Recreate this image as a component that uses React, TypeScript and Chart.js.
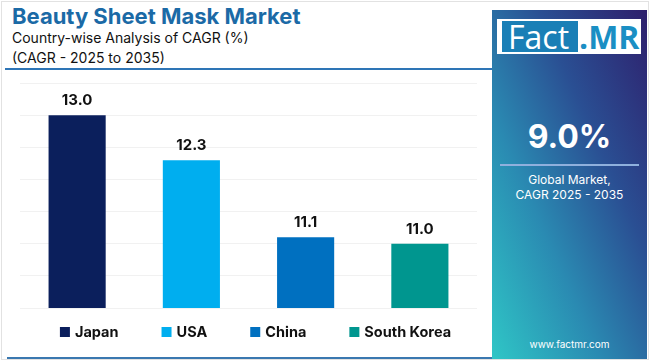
import React, { useEffect, useRef } from "react";
import { Chart, registerables } from "chart.js";

Chart.register(...registerables);

const categories = ["Japan", "USA", "China", "South Korea"];
const cagrValues = [13.0, 12.3, 11.1, 11.0];
const barColors = ["#0b1f5c", "#00aeef", "#0070c0", "#00968f"];
const yMin = 10;
const yMax = 13.5;
const yStep = 0.5;

const FONT = "Inter, 'Open Sans', sans-serif";

const barLabelPlugin = {
  id: "barLabels",
  afterDatasetsDraw(chart: any) {
    const ctx = chart.ctx;
    const meta = chart.getDatasetMeta(0);
    ctx.save();
    ctx.font = `bold 15px ${FONT}`;
    ctx.fillStyle = "#111111";
    ctx.textAlign = "center";
    ctx.textBaseline = "alphabetic";
    meta.data.forEach((bar: any, i: number) => {
      ctx.fillText(cagrValues[i].toFixed(1), bar.x, bar.y - 10);
    });
    ctx.restore();
  },
};

const customLegendPlugin = {
  id: "customLegend",
  afterDraw(chart: any) {
    const ctx = chart.ctx;
    const area = chart.chartArea;
    ctx.save();
    ctx.font = `bold 14.5px ${FONT}`;
    const box = 10;
    const gapText = 5;
    const gapItem = 43;
    const widths = categories.map((c) => box + gapText + ctx.measureText(c).width);
    const total = widths.reduce((a, b) => a + b, 0) + gapItem * (categories.length - 1);
    let x = (area.left + area.right) / 2 + 7 - total / 2;
    const y = area.bottom + 24;
    ctx.textBaseline = "middle";
    ctx.textAlign = "left";
    categories.forEach((c, i) => {
      ctx.fillStyle = barColors[i];
      ctx.fillRect(x, y - box / 2, box, box);
      ctx.fillStyle = "#111111";
      ctx.fillText(c, x + box + gapText, y + 1);
      x += widths[i] + gapItem;
    });
    ctx.restore();
  },
};

function BarChart() {
  const ref = useRef<HTMLCanvasElement | null>(null);
  useEffect(() => {
    if (!ref.current) return;
    const chart = new Chart(ref.current, {
      type: "bar",
      data: {
        labels: categories,
        datasets: [
          {
            data: cagrValues,
            backgroundColor: barColors,
            borderWidth: 0,
            barPercentage: 0.5,
            categoryPercentage: 1,
          },
        ],
      },
      options: {
        animation: false,
        responsive: false,
        maintainAspectRatio: false,
        layout: { padding: { left: 20, right: 13, top: 13, bottom: 52 } },
        plugins: { legend: { display: false }, tooltip: { enabled: false } },
        scales: {
          x: { display: false },
          y: {
            min: yMin,
            max: yMax,
            ticks: { display: false, stepSize: yStep },
            border: { display: false },
            grid: { color: "#f1f1f1", drawTicks: false, tickLength: 0 },
          },
        },
      },
      plugins: [barLabelPlugin, customLegendPlugin],
    });
    return () => chart.destroy();
  }, []);
  return <canvas ref={ref} width={490} height={290} style={{ width: 490, height: 290, display: "block" }} />;
}

export default function App() {
  return (
    <div
      style={{
        position: "fixed",
        left: 0,
        top: 0,
        width: 650,
        height: 360,
        background: "#ffffff",
        overflow: "hidden",
        fontFamily: FONT,
      }}
    >
      <div style={{ position: "absolute", left: 1, top: 1, width: 646, height: 357, border: "1px solid #e2e2e2" }} />
      <div
        style={{
          position: "absolute",
          left: 12,
          top: 2,
          fontSize: 22,
          fontWeight: 700,
          color: "#1b6aa6",
          lineHeight: "28px",
          whiteSpace: "nowrap",
        }}
      >
        Beauty Sheet Mask Market
      </div>
      <div
        style={{
          position: "absolute",
          left: 12,
          top: 28,
          fontSize: 14,
          color: "#111",
          lineHeight: "20px",
          whiteSpace: "nowrap",
        }}
      >
        Country-wise Analysis of CAGR (%)
        <br />
        (CAGR - 2025 to 2035)
      </div>
      <div style={{ position: "absolute", left: 5, top: 68, width: 488, height: 1.5, background: "#2e75b6" }} />
      <div style={{ position: "absolute", left: 0, top: 70 }}>
        <BarChart />
      </div>
      <div style={{ position: "absolute", left: 7, top: 357, width: 486, height: 2, background: "#3a78b0" }} />
      <div
        style={{
          position: "absolute",
          left: 492,
          top: 10,
          width: 155,
          height: 349,
          background: "linear-gradient(to top right, #2fc6c6 0%, #2a8ab2 35%, #2a4f93 65%, #2e1f6c 100%)",
          color: "#ffffff",
        }}
      >
        <div
          style={{
            position: "absolute",
            left: 5,
            top: 9,
            width: 144,
            height: 35,
            background: "#ffffff",
          }}
        >
          <div
            style={{
              position: "absolute",
              left: 5,
              top: 2,
              width: 76,
              height: 31,
              background: "#1a7fb6",
            }}
          />
          <div
            style={{
              position: "absolute",
              left: 11,
              top: 0,
              fontSize: 32,
              lineHeight: "35px",
              color: "#ffffff",
              fontFamily: "'Open Sans', sans-serif",
              fontWeight: 400,
            }}
          >
            Fact
          </div>
          <div
            style={{
              position: "absolute",
              left: 82,
              top: 0,
              fontSize: 32,
              lineHeight: "35px",
              color: "#1a8fc4",
              fontFamily: "'Open Sans', sans-serif",
              fontWeight: 700,
            }}
          >
            .MR
          </div>
        </div>
        <div
          style={{
            position: "absolute",
            left: 0,
            width: 155,
            top: 107,
            textAlign: "center",
            fontSize: 32,
            fontWeight: 700,
            lineHeight: "40px",
          }}
        >
          9.0%
        </div>
        <div style={{ position: "absolute", left: 8, top: 154, width: 139, height: 1.5, background: "#8fb0dd" }} />
        <div
          style={{
            position: "absolute",
            left: 0,
            width: 155,
            top: 162,
            textAlign: "center",
            fontSize: 12,
            lineHeight: "15px",
          }}
        >
          Global Market,
          <br />
          CAGR 2025 - 2035
        </div>
        <div
          style={{
            position: "absolute",
            left: 0,
            width: 155,
            top: 327,
            textAlign: "center",
            fontSize: 10,
            lineHeight: "14px",
          }}
        >
          www.factmr.com
        </div>
      </div>
    </div>
  );
}
